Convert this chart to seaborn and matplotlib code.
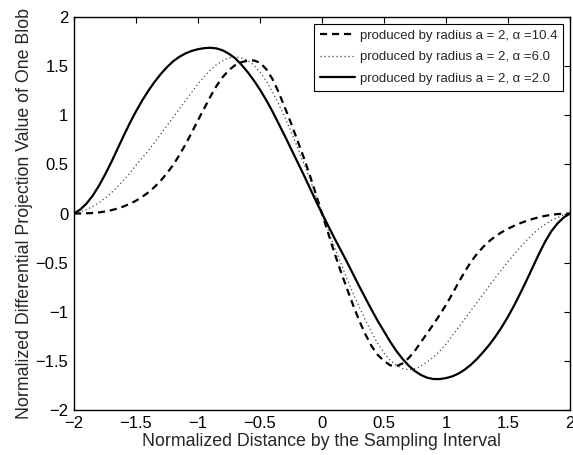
import numpy as np
import pandas as pd
import matplotlib
matplotlib.use("Agg")
import matplotlib.pyplot as plt
import seaborn as sns

x_vals = [-2.00, -1.95, -1.90, -1.85, -1.80, -1.75, -1.70, -1.65, -1.60, -1.55,
          -1.50, -1.45, -1.40, -1.35, -1.30, -1.25, -1.20, -1.15, -1.10, -1.05,
          -1.00, -0.95, -0.90, -0.85, -0.80, -0.75, -0.70, -0.65, -0.60, -0.55,
          -0.50, -0.45, -0.40, -0.35, -0.30, -0.25, -0.20, -0.15, -0.10, -0.05,
          0.00, 0.05, 0.10, 0.15, 0.20, 0.25, 0.30, 0.35, 0.40, 0.45,
          0.50, 0.55, 0.60, 0.65, 0.70, 0.75, 0.80, 0.85, 0.90, 0.95,
          1.00, 1.05, 1.10, 1.15, 1.20, 1.25, 1.30, 1.35, 1.40, 1.45,
          1.50, 1.55, 1.60, 1.65, 1.70, 1.75, 1.80, 1.85, 1.90, 1.95, 2.00]

y_alpha_10_4 = [0.0, 0.0005, 0.002, 0.005, 0.011, 0.02, 0.033, 0.05, 0.072, 0.098,
                0.13, 0.17, 0.215, 0.27, 0.335, 0.41, 0.495, 0.595, 0.705, 0.825,
                0.95, 1.07, 1.19, 1.30, 1.39, 1.46, 1.51, 1.54, 1.555, 1.558,
                1.535, 1.47, 1.37, 1.235, 1.08, 0.92, 0.75, 0.58, 0.395, 0.20,
                0.0, -0.20, -0.40, -0.585, -0.76, -0.93, -1.09, -1.23, -1.35, -1.44,
                -1.50, -1.545, -1.555, -1.525, -1.47, -1.395, -1.305, -1.215, -1.125, -1.03,
                -0.93, -0.82, -0.705, -0.595, -0.495, -0.41, -0.34, -0.28, -0.23, -0.19,
                -0.155, -0.125, -0.098, -0.075, -0.055, -0.038, -0.024, -0.013, -0.006, -0.002, 0.0]

y_alpha_6_0 = [0.0, 0.015, 0.04, 0.07, 0.11, 0.155, 0.21, 0.27, 0.34, 0.41,
               0.49, 0.565, 0.64, 0.725, 0.81, 0.895, 0.98, 1.065, 1.15, 1.235,
               1.32, 1.395, 1.46, 1.515, 1.555, 1.585, 1.595, 1.585, 1.56, 1.51,
               1.44, 1.35, 1.24, 1.115, 0.98, 0.835, 0.68, 0.52, 0.36, 0.18,
               0.0, -0.17, -0.34, -0.50, -0.66, -0.81, -0.95, -1.085, -1.21, -1.325,
               -1.42, -1.495, -1.545, -1.578, -1.59, -1.58, -1.55, -1.51, -1.46, -1.40,
               -1.33, -1.245, -1.16, -1.075, -0.99, -0.905, -0.82, -0.735, -0.65, -0.57,
               -0.49, -0.415, -0.34, -0.275, -0.21, -0.155, -0.11, -0.07, -0.04, -0.015, 0.0]

y_alpha_2_0 = [0.0, 0.04, 0.10, 0.18, 0.28, 0.395, 0.52, 0.655, 0.79, 0.92,
               1.04, 1.15, 1.25, 1.34, 1.42, 1.49, 1.55, 1.595, 1.63, 1.655,
               1.672, 1.683, 1.687, 1.68, 1.66, 1.625, 1.58, 1.515, 1.44, 1.355,
               1.26, 1.155, 1.04, 0.915, 0.79, 0.66, 0.53, 0.40, 0.265, 0.13,
               0.0, -0.125, -0.25, -0.37, -0.49, -0.615, -0.74, -0.86, -0.98, -1.095,
               -1.20, -1.305, -1.40, -1.48, -1.55, -1.605, -1.645, -1.672, -1.685, -1.685,
               -1.675, -1.658, -1.63, -1.59, -1.54, -1.48, -1.41, -1.335, -1.25, -1.155,
               -1.05, -0.935, -0.81, -0.68, -0.545, -0.41, -0.285, -0.18, -0.10, -0.04, 0.0]

labels = ["produced by radius a = 2, \u03b1 =10.4",
          "produced by radius a = 2, \u03b1 =6.0",
          "produced by radius a = 2, \u03b1 =2.0"]

x_ticks = [-2, -1.5, -1, -0.5, 0, 0.5, 1, 1.5, 2]
y_ticks = [-2, -1.5, -1, -0.5, 0, 0.5, 1, 1.5, 2]
x_tick_labels = ["\u22122", "\u22121.5", "\u22121", "\u22120.5", "0", "0.5", "1", "1.5", "2"]
y_tick_labels = ["\u22122", "\u22121.5", "\u22121", "\u22120.5", "0", "0.5", "1", "1.5", "2"]

df = pd.concat([
    pd.DataFrame({"x": x_vals, "y": y_alpha_10_4, "series": labels[0]}),
    pd.DataFrame({"x": x_vals, "y": y_alpha_6_0, "series": labels[1]}),
    pd.DataFrame({"x": x_vals, "y": y_alpha_2_0, "series": labels[2]}),
])

sns.set_style("white")
plt.rcParams["font.family"] = ["Liberation Sans", "DejaVu Sans"]

fig = plt.figure(figsize=(5.73, 4.55), dpi=100)
ax = fig.add_axes([74 / 573, 1 - 410 / 455, (570 - 74) / 573, (410 - 17) / 455])

styles = [
    dict(color="black", lw=1.6, linestyle=(0, (3.2, 2.2))),
    dict(color="#444444", lw=0.9, linestyle=(0, (1, 2.2))),
    dict(color="black", lw=1.6, linestyle="-"),
]
for lab, st in zip(labels, styles):
    sub = df[df["series"] == lab]
    sns.lineplot(data=sub, x="x", y="y", ax=ax, label=lab, sort=False,
                 estimator=None, **st)

ax.set_xlim(-2, 2)
ax.set_ylim(-2, 2)
ax.set_xticks(x_ticks)
ax.set_xticklabels(x_tick_labels)
ax.set_yticks(y_ticks)
ax.set_yticklabels(y_tick_labels)
ax.tick_params(direction="in", length=4.5, width=0.8, top=True, right=True,
               labelsize=12, pad=4, colors="black")
for sp in ax.spines.values():
    sp.set_color("black")
    sp.set_linewidth(1.0)

ax.set_xlabel("Normalized Distance by the Sampling Interval", fontsize=12.8, labelpad=2)
ax.set_ylabel("Normalized Differential Projection Value of One Blob", fontsize=12.8, labelpad=2)

leg = ax.legend(loc="upper right", fontsize=9.5, frameon=True, fancybox=False,
                framealpha=1, edgecolor="black", borderpad=0.45, labelspacing=0.7,
                handlelength=2.65, handletextpad=0.35, borderaxespad=0.5)
leg.get_frame().set_linewidth(0.8)

fig.savefig("out.png", dpi=100)
